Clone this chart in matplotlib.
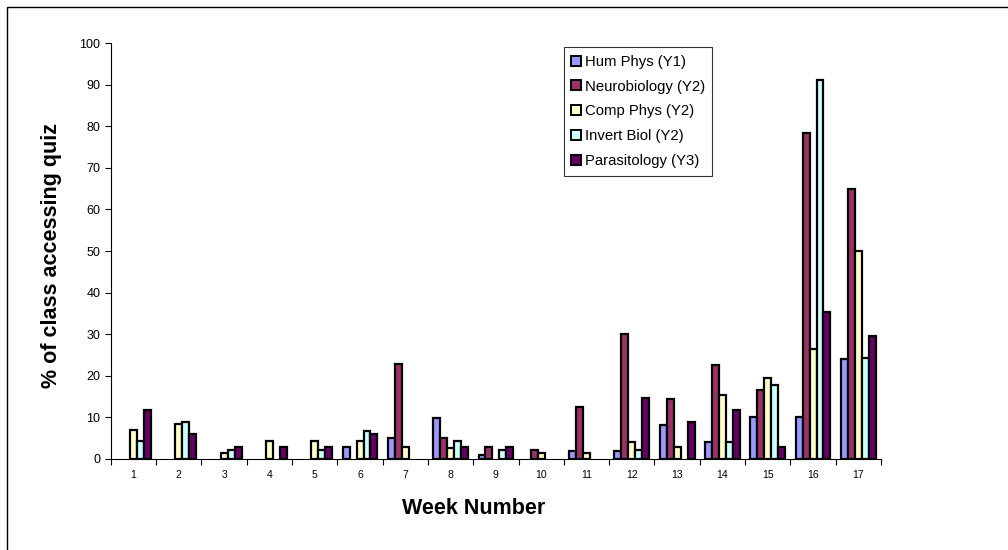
import numpy as np
import matplotlib.pyplot as plt
from matplotlib.patches import Rectangle

plt.rcParams['font.family'] = ['Liberation Sans', 'DejaVu Sans']

weeks = np.arange(1, 18)
hum_phys = [0, 0, 0, 0, 0, 3.0, 5.0, 9.9, 1.0, 0, 1.9, 1.9, 8.1, 4.0, 10.0, 10.0, 24.0]
neurobiology = [0, 0, 0, 0, 0, 0, 22.8, 5.1, 3.0, 2.1, 12.4, 30.0, 14.4, 22.7, 16.5, 78.5, 65.0]
comp_phys = [7.0, 8.3, 1.4, 4.4, 4.4, 4.4, 2.8, 2.7, 0, 1.4, 1.4, 4.2, 2.9, 15.3, 19.5, 26.4, 50.0]
invert_biol = [4.4, 8.9, 2.2, 0, 2.1, 6.7, 0, 4.4, 2.2, 0, 0, 2.1, 0, 4.2, 17.7, 91.2, 24.4]
parasitology = [11.7, 6.0, 2.9, 2.9, 2.9, 6.0, 0, 2.8, 2.8, 0, 0, 14.6, 8.8, 11.8, 2.9, 35.3, 29.5]

series = [
    ("Hum Phys (Y1)", hum_phys, "#9999FF"),
    ("Neurobiology (Y2)", neurobiology, "#993366"),
    ("Comp Phys (Y2)", comp_phys, "#FFFFCC"),
    ("Invert Biol (Y2)", invert_biol, "#CCFFFF"),
    ("Parasitology (Y3)", parasitology, "#660066"),
]

fig = plt.figure(figsize=(10.08, 5.5), dpi=100)
ax = fig.add_axes([0.110, 0.1655, 0.764, 0.756])

# outer chart frame (runs off the right and bottom edges)
fig.patches.append(Rectangle((0.007, -0.05), 1.1, 1.037, transform=fig.transFigure,
                             fill=False, edgecolor="black", linewidth=1.0))

w = 1 / 6.5
for i, (name, vals, col) in enumerate(series):
    vals = np.array(vals, dtype=float)
    x = weeks - 2.5 * w + (i + 0.5) * w
    keep = vals > 0
    ax.bar(x[keep], vals[keep], width=w, color=col, edgecolor="black",
           linewidth=1.6, label=name)

ax.set_xlim(0.5, 17.5)
ax.set_ylim(0, 100)
ax.set_yticks(np.arange(0, 101, 10))
ax.set_xticks(np.arange(0.5, 17.6, 1))
ax.set_xticklabels([])
ax.set_xticks(weeks, minor=True)
ax.set_xticklabels([str(w_) for w_ in weeks], minor=True, fontsize=7.5)
ax.tick_params(axis="x", which="minor", length=0, pad=8)
ax.tick_params(axis="x", which="major", length=4, width=0.8, direction="out")
ax.tick_params(axis="y", length=4, width=0.8, labelsize=9)

for s in ["top", "right"]:
    ax.spines[s].set_visible(False)
for s in ["left", "bottom"]:
    ax.spines[s].set_linewidth(0.8)

fig.text(52 / 1008, 1 - 255 / 550, "% of class accessing quiz", rotation=90,
         ha="center", va="center", fontsize=15.5, fontweight="bold")
fig.text(474 / 1008, 1 - 508 / 550, "Week Number",
         ha="center", va="center", fontsize=15.5, fontweight="bold")

leg = ax.legend(loc="upper left", bbox_to_anchor=(0.588, 0.990), fontsize=10.7,
                frameon=True, fancybox=False, edgecolor="black",
                handlelength=0.65, handleheight=0.65, handletextpad=0.25,
                labelspacing=0.73, borderpad=0.5, borderaxespad=0)
leg.get_frame().set_linewidth(0.8)
for h in leg.legend_handles:
    h.set_linewidth(1.4)

fig.savefig("out.png", dpi=100)
